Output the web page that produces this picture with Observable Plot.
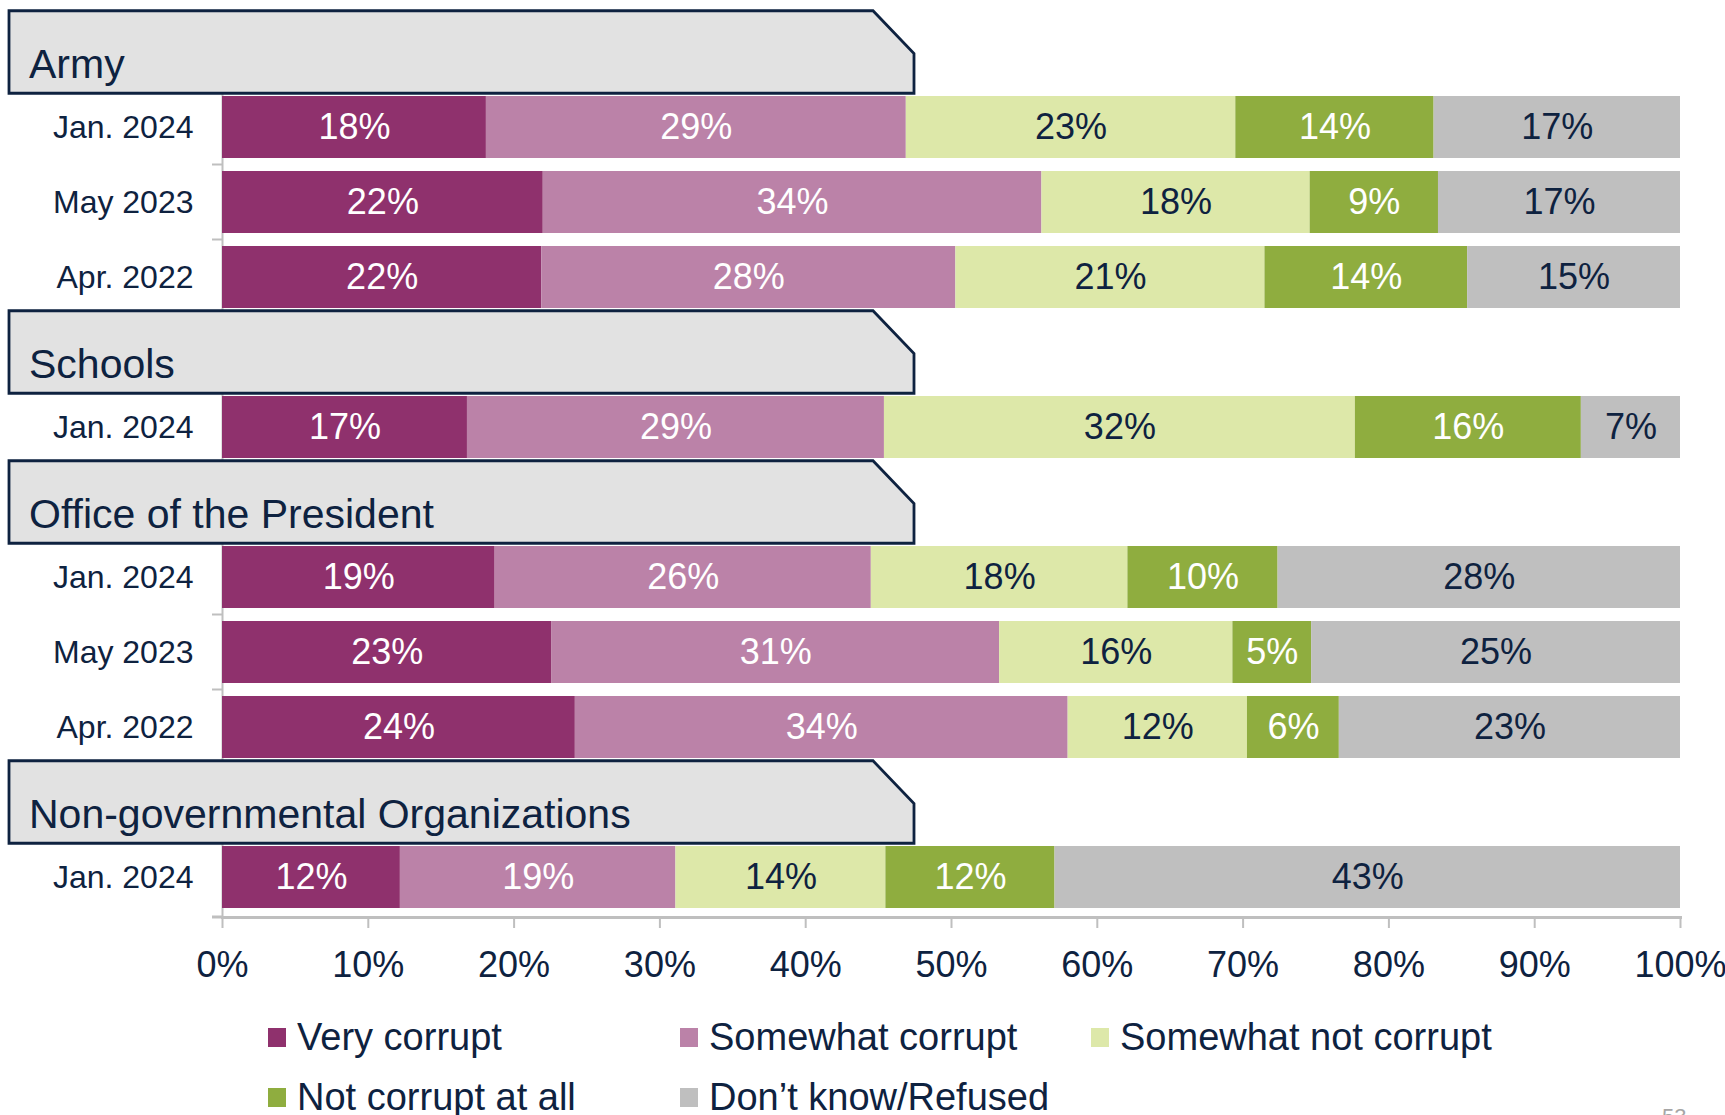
<!DOCTYPE html>
<html><head><meta charset="utf-8">
<script src="https://cdn.jsdelivr.net/npm/d3@7"></script>
<script src="https://cdn.jsdelivr.net/npm/@observablehq/plot@0.6"></script>
<style>
body{margin:0;background:#fff;width:1725px;height:1115px;overflow:hidden;font-family:"Liberation Sans",Arial,sans-serif;}
#legend{position:relative;width:1725px;height:115px;}
.li{position:absolute;height:50px;display:flex;align-items:center;font-size:38px;color:#0e2240;white-space:nowrap;}
.sw{width:18px;height:19px;margin-right:11px;}
#pg{position:absolute;left:1662px;top:104px;font-size:22px;color:#a6a6a6;}
</style></head><body>
<div id="chart"></div><div id="legend"></div>
<script>
const categories = ["Very corrupt", "Somewhat corrupt", "Somewhat not corrupt", "Not corrupt at all", "Don’t know/Refused"];
const colors = ["#8f316d", "#bb82a8", "#dde8a9", "#8fad3f", "#bfbfbf"];
const labelColors = ["#ffffff", "#ffffff", "#0e2240", "#ffffff", "#0e2240"];
const institutions = ["Army", "Schools", "Office of the President", "Non-governmental Organizations"];

const armyWaves = ["Jan. 2024", "May 2023", "Apr. 2022"];
const armyValues = [[18.1, 28.8, 22.6, 13.6, 16.9], [22.0, 34.2, 18.4, 8.8, 16.6], [21.9, 28.4, 21.2, 13.9, 14.6]];
const schoolsWaves = ["Jan. 2024"];
const schoolsValues = [[16.8, 28.6, 32.3, 15.5, 6.8]];
const presidentWaves = ["Jan. 2024", "May 2023", "Apr. 2022"];
const presidentValues = [[18.7, 25.8, 17.6, 10.3, 27.6], [22.6, 30.7, 16.0, 5.4, 25.3], [24.2, 33.8, 12.3, 6.3, 23.4]];
const ngoWaves = ["Jan. 2024"];
const ngoValues = [[12.2, 18.9, 14.4, 11.6, 42.9]];
const xTicks = [0, 10, 20, 30, 40, 50, 60, 70, 80, 90, 100];

const navy = "#0e2240";
const groups = [[institutions[0], armyWaves, armyValues], [institutions[1], schoolsWaves, schoolsValues],
  [institutions[2], presidentWaves, presidentValues], [institutions[3], ngoWaves, ngoValues]];
const domain = [], rows = [], headers = [], dataKeys = [];
for (const [inst, waves, vals] of groups) {
  const hk = "H|" + inst; domain.push(hk); headers.push({key: hk, name: inst});
  waves.forEach((w, i) => {
    const k = inst + "|" + w; domain.push(k); dataKeys.push(k);
    vals[i].forEach((v, j) => rows.push({row: k, j, cat: categories[j], value: v, color: colors[j], tc: labelColors[j]}));
  });
}

function axisExtras(index, scales, values, dims) {
  const y = scales.y;
  const step = y(domain[1]) - y(domain[0]);
  const bw = y.bandwidth ? y.bandwidth() : step * 0.82;
  const g = d3.create("svg:g").attr("stroke", "#bfbfbf").attr("stroke-width", 2);
  const L = dims.marginLeft;
  for (let i = 1; i < domain.length; i++) {
    const yy = y(domain[i]) - (step - bw) / 2;
    g.append("line").attr("x1", L - 10).attr("x2", L).attr("y1", yy).attr("y2", yy);
  }
  const yb = dims.height - dims.marginBottom;
  g.append("line").attr("x1", L - 10).attr("x2", L).attr("y1", yb).attr("y2", yb).attr("stroke-width", 3);
  return g.node();
}

function headerMark(index, scales, values, dims) {
  const y = scales.y;
  const step = y(domain[1]) - y(domain[0]);
  const bw = y.bandwidth ? y.bandwidth() : step * 0.82;
  const g = d3.create("svg:g");
  const left = 9, right = 914, cham = 873;
  for (const h of headers) {
    const c = y(h.key) + bw / 2;
    const top = c - 0.55 * step, bot = c + 0.55 * step;
    const mid = top + 0.52 * (bot - top);
    g.append("path")
      .attr("d", `M${left},${top}L${cham},${top}L${right},${mid}L${right},${bot}L${left},${bot}Z`)
      .attr("fill", "#e2e2e2").attr("stroke", navy).attr("stroke-width", 2.8).attr("stroke-linejoin", "miter");
    g.append("text").attr("x", 29).attr("y", c + 26).attr("fill", navy)
      .attr("text-anchor", "start").attr("font-size", 41).text(h.name);
  }
  return g.node();
}

const chart = Plot.plot({
  width: 1725, height: 1000,
  marginLeft: 222, marginRight: 45, marginTop: 12, marginBottom: 83,
  style: {fontFamily: '"Liberation Sans", Arial, sans-serif', background: "white", overflow: "visible"},
  x: {domain: [0, 100]},
  y: {type: "band", domain, paddingInner: 0.18, paddingOuter: 0.09},
  color: {type: "identity"},
  marks: [
    Plot.ruleX([0], {stroke: "#bfbfbf", strokeWidth: 2}),
    Plot.barX(rows, Plot.stackX({x: "value", y: "row", z: "j", fill: "color"})),
    Plot.text(rows, Plot.stackX({x: "value", y: "row", z: "j", text: d => Math.round(d.value) + "%", fill: "tc", fontSize: 36})),
    Plot.axisX({ticks: xTicks, tickFormat: d => d + "%", tickSize: 11, tickPadding: 23, fontSize: 36,
      stroke: "#bfbfbf", strokeWidth: 2, fill: navy, label: null}),
    Plot.frame({anchor: "bottom", stroke: "#bfbfbf", strokeWidth: 3}),
    Plot.axisY({ticks: dataKeys, tickFormat: k => k.split("|")[1], tickSize: 0, tickPadding: 29, fontSize: 32, fill: navy, label: null}),
    axisExtras,
    headerMark
  ]
});
document.getElementById("chart").appendChild(chart);

const legend = document.getElementById("legend");
const lx = [268, 680, 1091], ly = [12, 72];
categories.forEach((c, i) => {
  const d = document.createElement("div");
  d.className = "li";
  d.style.left = lx[i % 3] + "px"; d.style.top = ly[Math.floor(i / 3)] + "px";
  d.innerHTML = `<span class="sw" style="background:${colors[i]}"></span><span>${c}</span>`;
  legend.appendChild(d);
});
const pg = document.createElement("div"); pg.id = "pg"; pg.textContent = "53"; legend.appendChild(pg);
</script>
</body></html>
